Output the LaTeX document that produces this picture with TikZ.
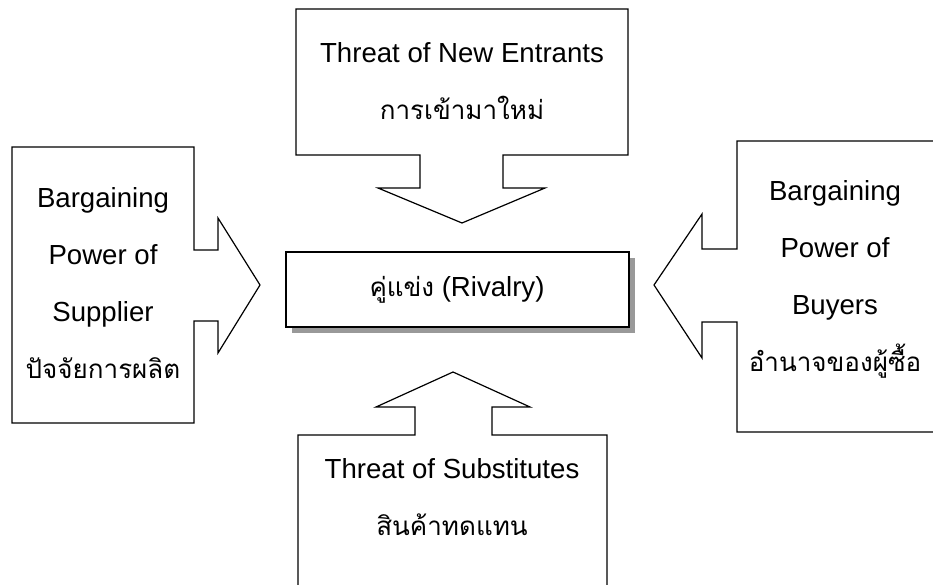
\documentclass[tikz,border=0pt]{standalone}
\usepackage{fontspec}
\setmainfont{Liberation Sans}
\newfontfamily\thaiface[Script=Thai]{Loma}
\newcommand\thtxt[1]{{\thaiface\fontsize{26}{57}\selectfont #1}}
\begin{document}
\begin{tikzpicture}[x=1pt,y=-1pt,
  shapeline/.style={draw=black,line width=1.2pt,line join=miter},
  lbl/.style={align=center,font=\fontsize{27.6}{57}\selectfont,inner sep=0pt}]
\useasboundingbox (0,0) rectangle (933,585);
\clip (0,0) rectangle (933,585);
% top callout
\draw[shapeline] (296,9) -- (628,9) -- (628,155) -- (503,155) -- (503,188) -- (545,188) -- (462,223) -- (378,188) -- (420,188) -- (420,155) -- (296,155) -- cycle;
% left callout
\draw[shapeline] (12,147) -- (194,147) -- (194,250) -- (218,250) -- (218,218) -- (260,285) -- (218,353) -- (218,321) -- (194,321) -- (194,423) -- (12,423) -- cycle;
% right callout
\draw[shapeline] (945,141) -- (737,141) -- (737,249) -- (702,249) -- (702,214) -- (654,285) -- (702,358) -- (702,322) -- (737,322) -- (737,432) -- (945,432);
% bottom callout
\draw[shapeline] (298,600) -- (298,435) -- (415,435) -- (415,407) -- (376,407) -- (453,372) -- (530,407) -- (492,407) -- (492,435) -- (607,435) -- (607,600);
% rivalry box
\fill[gray!80] (292,258) rectangle (635,333);
\draw[shapeline,fill=white] (286,252) rectangle (629,327);
\node[lbl] (riv) at (457,290) {\thtxt{คู่แข่ง} (Rivalry)};
\node[lbl] (top) at (462,81) {Threat of New Entrants\\\thtxt{การเข้ามาใหม่}};
\node[lbl] (left) at (103,283) {Bargaining\\Power of\\Supplier\\\thtxt{ปัจจัยการผลิต}};
\node[lbl] (right) at (835,279) {Bargaining\\Power of\\Buyers\\\thtxt{อำนาจของผู้ซื้อ}};
\node[lbl] (bot) at (452,497) {Threat of Substitutes\\\thtxt{สินค้าทดแทน}};
\end{tikzpicture}
\end{document}
